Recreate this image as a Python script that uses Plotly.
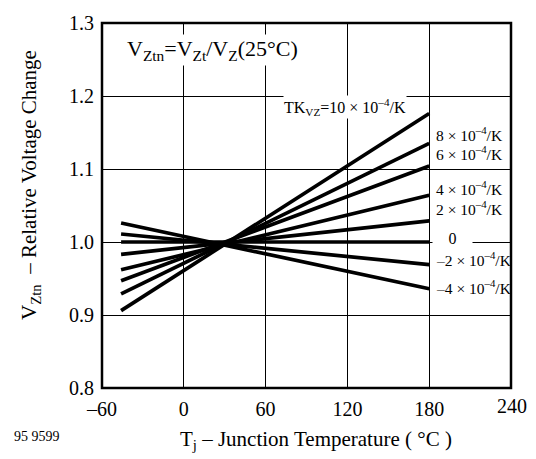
import plotly.graph_objects as go

# ---- data ----
tk_values = [10, 8, 6, 4, 2, 0, -2, -4]          # TK_VZ in 10^-4/K
t_start = -46                                     # °C
t_end = 180                                       # °C
v_start = [0.906, 0.929, 0.947, 0.962, 0.983, 1.000, 1.011, 1.026]
v_end = [1.176, 1.135, 1.104, 1.064, 1.029, 1.000, 0.969, 0.936]

x_tickvals = [-60, 0, 60, 120, 180]
x_ticktext = ["–60", "0", "60", "120", "180"]
y_tickvals = [0.8, 0.9, 1.0, 1.1, 1.2, 1.3]
y_ticktext = ["0.8", "0.9", "1.0", "1.1", "1.2", "1.3"]

label_texts = [
    "TK<sub>VZ</sub>=10 × 10<sup>–4</sup>/K",
    "8 × 10<sup>–4</sup>/K",
    "6 × 10<sup>–4</sup>/K",
    "4 × 10<sup>–4</sup>/K",
    "2 × 10<sup>–4</sup>/K",
    "0",
    "–2 × 10<sup>–4</sup>/K",
    "–4 × 10<sup>–4</sup>/K",
]
# label anchor positions in pixels (x left edge, y centre)
label_px = [283, 435, 435, 435, 435, 432, 435, 435]
label_py = [102, 129, 149, 184, 205, 236, 257, 285]

FONT = "Liberation Serif"
W, H = 536, 459
L, R, T, B = 102, 25, 16, 71
PW, PH = W - L - R, H - T - B


def px(x):
    return (x - L) / PW


def py(y):
    return (H - B - y) / PH


fig = go.Figure()
for i, tk in enumerate(tk_values):
    fig.add_trace(go.Scatter(
        x=[t_start, t_end], y=[v_start[i], v_end[i]],
        mode="lines", line=dict(color="black", width=3.7),
        showlegend=False, hoverinfo="skip"))

ann = []
for i, txt in enumerate(label_texts):
    d = dict(x=px(label_px[i]), y=py(label_py[i]), xref="paper", yref="paper", text=txt,
             xanchor="left", yanchor="middle", showarrow=False,
             font=dict(family=FONT, size=16 if i == 0 else 15.5, color="black"),
             borderpad=0)
    if tk_values[i] >= 0:
        d["bgcolor"] = "white"
    if txt == "0":
        d.update(width=39, align="center", font=dict(family=FONT, size=16, color="black"))
    ann.append(d)

# formula
ann.append(dict(x=px(125), y=py(44), xref="paper", yref="paper",
                text="V<sub>Ztn</sub>=V<sub>Zt</sub>/V<sub>Z</sub>(25°C)",
                xanchor="left", yanchor="middle", showarrow=False,
                font=dict(family=FONT, size=22, color="black"),
                bgcolor="white", borderpad=1))
# 240 tick label (slightly raised)
ann.append(dict(x=px(512), y=py(406), xref="paper", yref="paper", text="240",
                xanchor="center", yanchor="middle", showarrow=False,
                font=dict(family=FONT, size=20, color="black")))
# axis titles
ann.append(dict(x=px(316), y=py(441), xref="paper", yref="paper",
                text="T<sub>j</sub> – Junction Temperature ( °C )",
                xanchor="center", yanchor="middle", showarrow=False,
                font=dict(family=FONT, size=21, color="black")))
ann.append(dict(x=px(30), y=py(181), xref="paper", yref="paper",
                text="V<sub>Ztn</sub>  – Relative Voltage Change", textangle=-90,
                xanchor="center", yanchor="middle", showarrow=False,
                font=dict(family=FONT, size=21, color="black")))
ann.append(dict(x=px(12), y=py(437), xref="paper", yref="paper", text="95 9599",
                xanchor="left", yanchor="middle", showarrow=False,
                font=dict(family=FONT, size=14, color="black")))

fig.update_layout(
    width=W, height=H,
    margin=dict(l=L, r=R, t=T, b=B),
    paper_bgcolor="white", plot_bgcolor="white",
    font=dict(family=FONT, size=20, color="black"),
    annotations=ann,
    shapes=[dict(type="rect", xref="paper", yref="paper", x0=0, x1=1, y0=0, y1=1,
                 line=dict(color="black", width=2.5), layer="above")],
)
fig.update_xaxes(range=[-60, 240], tickvals=x_tickvals, ticktext=x_ticktext,
                 showgrid=True, gridcolor="black", gridwidth=1, zeroline=False,
                 showline=False, ticks="", ticklabelstandoff=7,
                 tickfont=dict(family=FONT, size=20, color="black"))
fig.update_yaxes(range=[0.8, 1.3], tickvals=y_tickvals, ticktext=y_ticktext,
                 showgrid=True, gridcolor="black", gridwidth=1, zeroline=False,
                 showline=False, ticks="", ticklabelstandoff=7,
                 tickfont=dict(family=FONT, size=20, color="black"))

fig.write_html("out.html")
